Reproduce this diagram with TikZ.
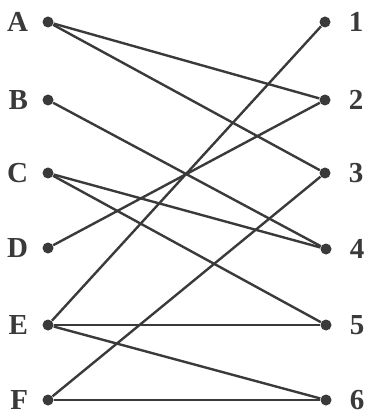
\documentclass[tikz,border=0pt]{standalone}
\usepackage{fontspec}
\setmainfont{Liberation Serif}
\usepackage{tikz}
\usetikzlibrary{positioning}
\definecolor{inkgray}{HTML}{3A3A3A}

\begin{document}
\begin{tikzpicture}[
  x=0.5pt, y=-0.5pt,
  dot/.style={circle, fill=inkgray, inner sep=0pt, minimum size=5.5pt},
  lbl/.style={font=\fontsize{14.5}{16}\selectfont\bfseries, text=inkgray},
  edge/.style={draw=inkgray, line width=1.2pt}
]
  \useasboundingbox (0,0) rectangle (368,416);

  % Left vertices
  \node[dot, label={[lbl, label distance=3.5pt]left:A}] (a) at (48, 22) {};
  \node[dot, label={[lbl, label distance=3.5pt]left:B}] (b) at (48, 100) {};
  \node[dot, label={[lbl, label distance=3.5pt]left:C}] (c) at (48, 173) {};
  \node[dot, label={[lbl, label distance=3.5pt]left:D}] (d) at (48, 248) {};
  \node[dot, label={[lbl, label distance=3.5pt]left:E}] (e) at (48, 325) {};
  \node[dot, label={[lbl, label distance=3.5pt]left:F}] (f) at (48, 400) {};

  % Right vertices
  \node[dot, label={[lbl, label distance=5.5pt]right:1}] (n1) at (325, 22) {};
  \node[dot, label={[lbl, label distance=5.5pt]right:2}] (n2) at (325, 100) {};
  \node[dot, label={[lbl, label distance=5.5pt]right:3}] (n3) at (325, 173) {};
  \node[dot, label={[lbl, label distance=5.5pt]right:4}] (n4) at (326, 249) {};
  \node[dot, label={[lbl, label distance=5.5pt]right:5}] (n5) at (326, 325) {};
  \node[dot, label={[lbl, label distance=5.5pt]right:6}] (n6) at (326, 400) {};

  % Edges
  \draw[edge] (a) -- (n2);
  \draw[edge] (a) -- (n3);
  \draw[edge] (b) -- (n4);
  \draw[edge] (c) -- (n4);
  \draw[edge] (c) -- (n5);
  \draw[edge] (d) -- (n2);
  \draw[edge] (e) -- (n1);
  \draw[edge] (e) -- (n5);
  \draw[edge] (e) -- (n6);
  \draw[edge] (f) -- (n3);
  \draw[edge] (f) -- (n6);
\end{tikzpicture}
\end{document}
